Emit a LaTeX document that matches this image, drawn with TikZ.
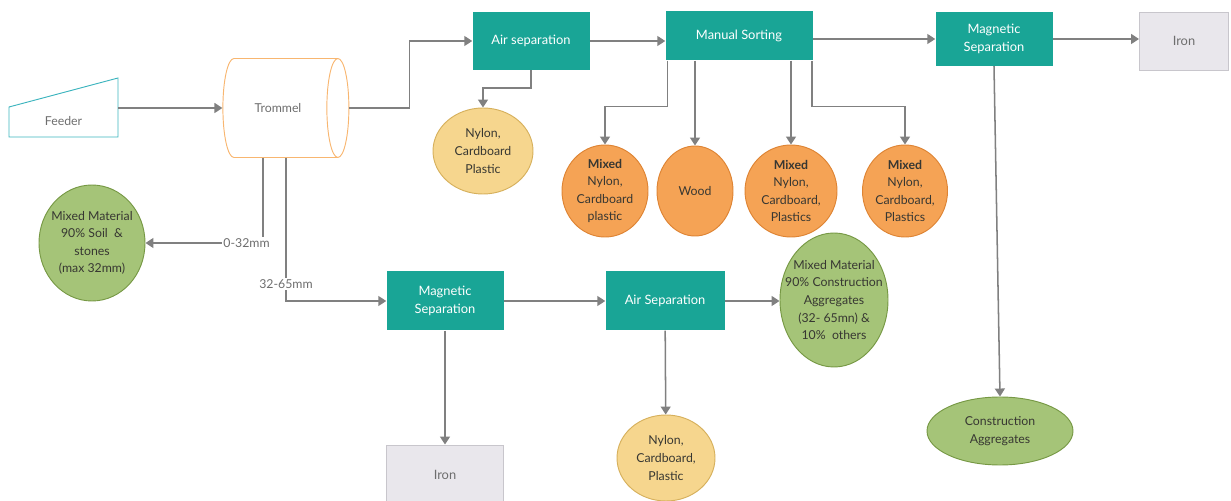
\documentclass[tikz,border=0pt]{standalone}
\usepackage{fontspec}
\setmainfont{Lato}
\usetikzlibrary{arrows.meta,positioning,shapes.geometric,calc}
\definecolor{procT}{RGB}{25,165,150}
\definecolor{orgF}{RGB}{245,163,85}
\definecolor{orgB}{RGB}{222,132,52}
\definecolor{ylwF}{RGB}{246,214,142}
\definecolor{ylwB}{RGB}{214,176,92}
\definecolor{grnF}{RGB}{165,196,120}
\definecolor{grnB}{RGB}{118,152,68}
\definecolor{ironF}{RGB}{233,231,236}
\definecolor{ironB}{RGB}{200,198,204}
\definecolor{feedB}{RGB}{60,180,190}
\definecolor{trmB}{RGB}{248,182,112}
\definecolor{lineG}{RGB}{128,128,128}
\definecolor{txtG}{RGB}{110,110,110}
\definecolor{txtD}{RGB}{55,55,50}

\begin{document}
\begin{tikzpicture}[x=0.3mm, y=-0.3mm, font=\fontsize{10.5}{15}\selectfont, >={Triangle[length=2.4mm,width=3mm]},
  proc/.style={rectangle, fill=procT, text=white, align=center, font=\fontsize{11}{15.5}\selectfont, minimum height=17.4mm, minimum width=35.1mm},
  iron/.style={rectangle, draw=ironB, fill=ironF, thick, text=txtG, font=\fontsize{11}{15.5}\selectfont, minimum height=17.4mm, minimum width=35.1mm},
  blob/.style={ellipse, inner sep=-4mm, thick, align=center, text=txtD},
  mixO/.style={blob, draw=orgB, fill=orgF, minimum width=26mm, minimum height=27.6mm},
  nyl/.style={blob, draw=ylwB, fill=ylwF, minimum width=30mm, minimum height=25.8mm},
  agg/.style={blob, draw=grnB, fill=grnF},
  flow/.style={->, draw=lineG, line width=1.3pt},
  lbl/.style={fill=white, text=txtG, inner sep=1pt}]
  \clip (0,0) rectangle (1231,501);
  \node[minimum width=32.7mm, minimum height=17.7mm, text=txtG] (feeder) at (63.5,121) {Feeder};
  \draw[feedB, thick] (9,107) -- (118,78) -- (118,137) -- (9,137) -- cycle;
  \node[cylinder, draw=trmB, thick, shape aspect=1.3, minimum height=37.8mm, minimum width=29.7mm, text=txtG] (trommel) at (278,108) {Trommel};
  \node[proc] (airsep) at (531,41) {Air separation};
  \node[proc, minimum width=44.1mm, minimum height=14.7mm] (mansort) at (739,36) {Manual Sorting};
  \node[proc, minimum height=16.2mm] (magsep) at (994,39) {Magnetic\\Separation};
  \node[iron, minimum width=26.7mm] (iron) at (1184,41) {Iron};
  \node[proc, minimum height=17.7mm] (magsep2) at (445,301) {Magnetic\\Separation};
  \node[proc, minimum width=35.7mm, minimum height=17.7mm] (airsep2) at (665,301) {Air Separation};
  \node[iron, minimum height=18mm] (iron2) at (445,475) {Iron};
  \node[nyl] (nyl1) at (483,151) {Nylon,\\Cardboard\\Plastic};
  \node[mixO, minimum width=25.8mm] (mix1) at (605,191) {\textbf{Mixed}\\Nylon,\\Cardboard\\plastic};
  \node[mixO, minimum width=22.8mm, minimum height=27mm] (wood) at (695,191) {Wood};
  \node[mixO, minimum width=27.6mm] (mix2) at (791,191) {\textbf{Mixed}\\Nylon,\\Cardboard,\\Plastics};
  \node[mixO, minimum width=25.5mm] (mix3) at (905,191) {\textbf{Mixed}\\Nylon,\\Cardboard,\\Plastics};
  \node[agg, minimum width=31.8mm, minimum height=34.8mm] (soil) at (92,243) {Mixed Material\\90\% Soil~~\&\\stones\\(max 32mm)};
  \node[agg, minimum width=32.4mm, minimum height=40.2mm] (mixagg) at (834,300) {Mixed Material\\90\% Construction\\Aggregates\\(32- 65mn) \&\\10\%~~others};
  \node[agg, minimum width=43.8mm, minimum height=20.4mm] (consagg) at (1000,431) {Construction\\Aggregates};
  \node[nyl, minimum width=29.4mm] (nyl2) at (666,458) {Nylon,\\Cardboard,\\Plastic};
  \draw[flow] (feeder.east |- trommel.west) -- (trommel.west);
  \draw[flow] (trommel.east) -- ++(60,0) |- (airsep.west);
  \draw[flow] (airsep.south) -- ++(0,18) -| (nyl1.north);
  \draw[flow] (airsep.east) -- (airsep.east -| mansort.west);
  \draw[flow] ([xshift=0.6mm]mansort.south west) -- ++(0,46) -| (mix1.north);
  \draw[flow] (mansort.south -| wood.north) -- (wood.north);
  \draw[flow] (mansort.south -| mix2.north) -- (mix2.north);
  \draw[flow] ([xshift=-0.3mm]mansort.south east) -- ++(0,46) -| (mix3.north);
  \draw[flow] (mansort.east |- magsep.west) -- (magsep.west);
  \draw[flow] (magsep.east) -- (magsep.east -| iron.west);
  \draw[flow] (magsep.south) -- (consagg.north);
  \draw[flow] ([xshift=-4.5mm]trommel.south) |- node[lbl, pos=0.57] {0-32mm} (soil.east);
  \draw[flow] ([xshift=2.4mm]trommel.south) |- node[lbl, pos=0.44] {32-65mm} (magsep2.west);
  \draw[flow] (magsep2) -- (airsep2);
  \draw[flow] (airsep2.east) -- (airsep2.east -| mixagg.west);
  \draw[flow] (magsep2) -- (iron2);
  \draw[flow] (airsep2) -- (nyl2);
\end{tikzpicture}
\end{document}
